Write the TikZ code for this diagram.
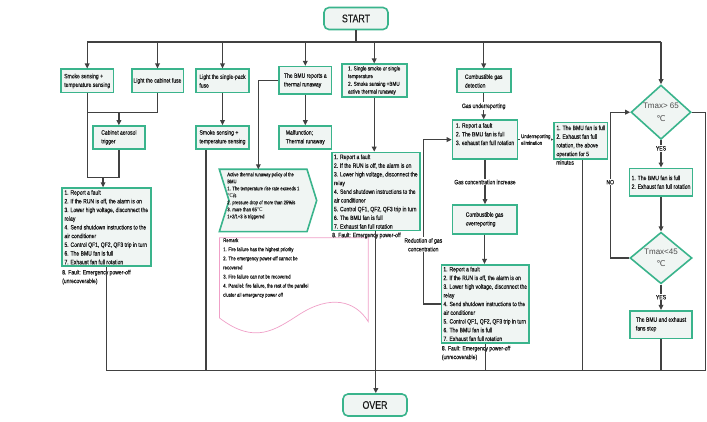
\documentclass[tikz,border=0pt]{standalone}
\usepackage{fontspec}
\setmainfont{Liberation Sans}[FakeStretch=0.8, FakeBold=0.3]
\newfontfamily\widefont{Liberation Sans}
\newfontfamily\degfont{DejaVu Sans}
\usepackage{xcolor}
\usepackage{tikz}
\usetikzlibrary{shapes.geometric, arrows.meta, positioning, calc}
\definecolor{boxgreen}{RGB}{58, 180, 140}
\definecolor{boxfill}{RGB}{240, 245, 243}
\definecolor{linegray}{RGB}{65, 65, 65}
\definecolor{txtdark}{RGB}{25, 25, 25}
\definecolor{notepink}{RGB}{240, 160, 200}
\newcommand{\degc}{{\degfont ℃}}
\newcommand{\bxfont}{\fontsize{6.3}{8.7}\selectfont}
\newcommand{\ssfont}{\fontsize{5.8}{7.7}\selectfont}
\newcommand{\smfont}{\fontsize{5.2}{7}\selectfont}
\newcommand{\tnfont}{\fontsize{5.5}{6.7}\selectfont}
\newcommand{\rmkfont}{\fontsize{5.4}{9.1}\selectfont}
\newcommand{\termfont}{\fontsize{11}{13}\selectfont}
\newcommand{\dmfont}{\widefont\fontsize{8}{12.3}\selectfont}
\newcommand{\actlines}{1. Report a fault\\2. If the RUN is off, the alarm is on\\
    3. Lower high voltage, disconnect the\\relay\\
    4. Send shutdown instructions to the\\air conditioner\\
    5. Control QF1, QF2, QF3 trip in turn\\6. The BMU fan is full\\
    7. Exhaust fan full rotation}
\tikzset{
    box/.style={rectangle, draw=boxgreen, fill=boxfill, line width=1.6pt,
                font=\bxfont, text=txtdark, align=left, inner xsep=1.5pt,
                inner ysep=2pt},
    bigbox/.style={box, anchor=north west, text depth=0pt},
    tail/.style={font=\bxfont, text=txtdark, align=left, inner sep=0pt,
                 anchor=north west},
    term/.style={rectangle, rounded corners=5pt, draw=boxgreen, fill=boxfill,
                 line width=1.6pt, font=\termfont, text=txtdark,
                 minimum width=64pt, minimum height=22pt},
    deci/.style={diamond, draw=boxgreen, fill=boxfill, line width=1.6pt,
                 font=\dmfont, text=black!70, align=center, inner sep=0pt},
    polshape/.style={draw=boxgreen, fill=boxfill, line width=1.6pt},
    note/.style={draw=notepink, line width=0.7pt},
    wire/.style={draw=linegray, line width=1.25pt},
    arr/.style={wire, -{Triangle[length=5pt, width=4.6pt]}},
    lbl/.style={font=\bxfont, text=txtdark, fill=white, inner sep=1pt,
                align=center},
}

\begin{document}
\begin{tikzpicture}[x=1pt, y=-1pt]
    \path[use as bounding box, fill=white] (0,0) rectangle (707,422);

    % Start and buses
    \node[term] (start) at (356,18.5) {START};
    \coordinate (tb) at (0,42);
    \coordinate (bb) at (0,370.7);
    \coordinate (k1) at (0,112.7);
    \coordinate (k2) at (0,177.3);

    % Cabinet fire
    \node[box, minimum width=52.3pt, minimum height=23.4pt] (smk1) at (87.2,81)
        {Smoke sensing +\\temperature sensing};
    \node[box, minimum width=51.6pt, minimum height=23.4pt] (cfuse) at (157.5,81)
        {Light the cabinet fuse};
    \node[box, minimum width=52.3pt, minimum height=22.7pt] (aero) at (118.9,137.4)
        {Cabinet aerosol\\trigger};
    \node[bigbox, minimum width=89pt] (act1) at (61,187.3) {\actlines};
    \node[tail, below right=2.6pt and 1pt of act1.south west] (act1t)
        {8. Fault: Emergency power-off\\(unrecoverable)};

    % Single pack
    \node[box, minimum width=53pt, minimum height=23.4pt] (pfuse) at (222.5,81)
        {Light the single-pack\\fuse};
    \node[box, minimum width=53pt, minimum height=22.7pt] (smk2) at (222.5,137.4)
        {Smoke sensing +\\temperature sensing};

    % BMU thermal runaway
    \node[box, minimum width=52.7pt, minimum height=27.6pt] (bmu) at (305.3,80.5)
        {The BMU reports a\\thermal runaway};
    \node[box, minimum width=52.7pt, minimum height=22.7pt] (malf) at (305.3,137.4)
        {Malfunction;\\Thermal runaway};
    \path[polshape] (219.3,169.3) -- (307,169.3) -- (316.7,200.5) -- (307,231.7)
        -- (219.3,231.7) -- (229,200.5) -- cycle;
    \node[font=\smfont, text=txtdark, align=left, anchor=north west,
          minimum width=87.7pt, inner ysep=3pt, text depth=10.6pt] (pol) at (219.3,169.3)
        {Active thermal runaway policy of the\\BMU\\
         1. The temperature rise rate exceeds 1\\\degc/s\\
         2. pressure drop of more than 25\%/s\\3. more than 65\degc\\
         1+2/1+3 is triggered};

    % Remark
    \draw[note] (219.5,237.7) -- (368.3,237.7) -- (368.3,321.7)
        .. controls (355,300) and (330,295) .. (300,314)
        .. controls (275,330) and (255,345) .. (219.5,318) -- cycle;
    \node[font=\rmkfont, text=txtdark, align=left, inner sep=0pt,
          anchor=north west] (remark) at (223,238)
        {Remark\\1. Fire failure has the highest priority\\
         2. The emergency power-off cannot be\\recovered\\
         3. Fire failure can not be recovered\\
         4. Parallel: fire failure, the rest of the parallel\\
         cluster all emergency power off};

    % Smoke or temperature
    \node[box, font=\ssfont, minimum width=65pt, minimum height=27.6pt] (single) at (374.2,80.5)
        {1. Single smoke or single\\temperature\\2. Smoke sensing +BMU\\active thermal runaway};
    \node[bigbox, minimum width=88pt] (act2) at (331,151.7) {\actlines};
    \node[tail, below right=1pt and 1pt of act2.south west] (act2t)
        {8. Fault: Emergency power-off};

    % Combustible gas
    \node[box, minimum width=54pt, minimum height=23.4pt] (gdet) at (483.7,81)
        {Combustible gas\\detection};
    \node[box, anchor=north west, minimum width=65pt, inner ysep=3pt,
          text depth=11pt] (gfan) at (451.7,119.3)
        {1. Report a fault\\2. The BMU fan is full\\3. exhaust fan full rotation};
    \node[box, anchor=north west, minimum width=53.4pt, inner ysep=3pt,
          text depth=0pt] (gwait) at (553.3,121.7)
        {1. The BMU fan is full\\2. Exhaust fan full\\rotation, the above\\operation for 5};
    \node[tail, below right=0pt and 2.7pt of gwait.south west] (gwaitt) {minutes};
    \node[box, minimum width=64.4pt, minimum height=29pt] (gover) at (484.5,219.5)
        {Combustible gas\\overreporting};
    \node[bigbox, minimum width=87.6pt] (act3) at (440.7,264) {\actlines};
    \node[tail, below right=1.9pt and 1pt of act3.south west] (act3t)
        {8. Fault: Emergency power-off\\(unrecoverable)};

    % Temperature
    \node[deci, minimum width=60pt, minimum height=54.3pt] (hot) at (661,112.2)
        {Tmax> 65\\\degc};
    \node[box, minimum width=62.7pt, minimum height=27.7pt] (tfan) at (661,182.2)
        {1. The BMU fan is full\\2. Exhaust fan full rotation};
    \node[deci, minimum width=62pt, minimum height=42.6pt] (cool) at (661,258)
        {Tmax<45\\\degc};
    \node[box, minimum width=62pt, minimum height=27.6pt] (tstop) at (661,324.5)
        {The BMU and exhaust\\fans stop};

    \node[term] (over) at (375,405) {OVER};

    % Top bus
    \draw[wire] (start.south) -- (start.south |- tb);
    \draw[wire] (smk1.north |- tb) -- (hot.north |- tb);
    \foreach \n in {smk1, cfuse, pfuse, bmu, single, gdet, hot}
        \draw[arr] (\n.north |- tb) -- (\n.north);

    % Cabinet branch
    \draw[wire] (cfuse.south) |- (smk1.south |- k1);
    \draw[arr] (aero.north |- k1) -- (aero.north);
    \draw[wire] (smk1.south) -- (smk1.south |- k2) -- (aero.south |- k2) -- (aero.south);
    \coordinate (jn) at ($(smk1.south |- k2)!0.5!(aero.south |- k2)$);
    \draw[arr] (jn) -- (jn |- act1.north);

    % Single pack and BMU
    \draw[arr] (pfuse.south) -- (smk2.north);
    \draw[arr] (bmu.south) -- (malf.north);
    \draw[arr] (bmu.west) -| ([xshift=-5pt]pol.north);
    \draw[arr] (single.south) -- (single.south |- act2.north);
    \draw[arr] (act2.south) -- (act2.south |- over.north);

    % Gas branch
    \draw[arr] (gdet.south) -- node[lbl] {Gas underreporting} (gdet.south |- gfan.north);
    \draw[arr] (gfan.east) -- node[lbl, font=\tnfont, align=left]
        {Underreporting\\elimination} (gfan.east -| gwait.west);
    \draw[arr] (gfan.south) -- node[lbl] {Gas concentration increase}
        (gfan.south |- gover.north);
    \draw[arr] (gover.south) -- (gover.south |- act3.north);
    \draw[arr] (act3.west) -- ++(-17.4,0) |- node[lbl, pos=0.18]
        {Reduction of gas\\concentration} (gfan.west);

    % Temperature branch
    \draw[arr] (hot.south) -- node[lbl, pos=0.3] {YES} (tfan.north);
    \draw[arr] (tfan.south) -- (cool.north);
    \draw[arr] (cool.south) -- node[lbl] {YES} (tstop.north);
    \draw[arr] (cool.west) -- ++(-19,0) |- node[lbl, pos=0.26] {NO} (hot.west);

    % Bottom bus
    \draw[wire] (hot.east) -- ++(14,0) |- (act1.south |- bb);
    \foreach \n in {act1, act3, tstop}
        \draw[wire] (\n.south) -- (\n.south |- bb);
    \draw[wire] ([xshift=-16.5pt]smk2.south) -- ([xshift=-16.5pt]smk2.south |- bb);
    \draw[wire] ([xshift=1.7pt]gwait.south) -- ([xshift=1.7pt]gwait.south |- bb);
\end{tikzpicture}
\end{document}
